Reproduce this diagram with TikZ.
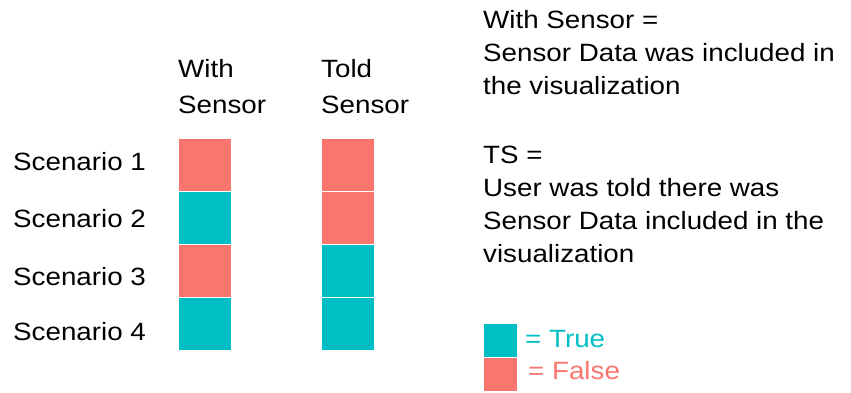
\documentclass[tikz,border=0pt]{standalone}
\usepackage{fontspec}
\setmainfont[FakeStretch=1.11]{Liberation Sans}
\definecolor{salmon}{HTML}{F8766D}
\definecolor{teal2}{HTML}{00BFC4}
\begin{document}
\begin{tikzpicture}[x=1pt,y=-1pt,
  txt/.style={anchor=base west,inner sep=0pt,font=\fontsize{25}{33}\selectfont},
  cell/.style={draw=white,line width=0.8pt},
  tcell/.style={cell,fill=teal2},
  fcell/.style={cell,fill=salmon}]
\useasboundingbox (0,0) rectangle (851,392);
% headers
\node[txt] (h1a) at (178,77) {With};
\node[txt] (h1b) at (178,113) {Sensor};
\node[txt] (h2a) at (321,77) {Told};
\node[txt] (h2b) at (321,113) {Sensor};
% scenario labels
\node[txt] (s1) at (13,170) {Scenario 1};
\node[txt] (s2) at (13,227) {Scenario 2};
\node[txt] (s3) at (13,285) {Scenario 3};
\node[txt] (s4) at (13,340) {Scenario 4};
% cells
\draw[fcell] (178,138) rectangle (231,191);
\draw[tcell] (178,191) rectangle (231,244);
\draw[fcell] (178,244) rectangle (231,297);
\draw[tcell] (178,297) rectangle (231,350);
\draw[fcell] (321,138) rectangle (374,191);
\draw[fcell] (321,191) rectangle (374,244);
\draw[tcell] (321,244) rectangle (374,297);
\draw[tcell] (321,297) rectangle (374,350);
% explanations
\node[txt] (e1) at (483,28) {With Sensor =};
\node[txt] (e2) at (483,61) {Sensor Data was included in};
\node[txt] (e3) at (483,94) {the visualization};
\node[txt] (t1) at (483,163) {TS =};
\node[txt] (t2) at (483,196) {User was told there was};
\node[txt] (t3) at (483,229) {Sensor Data included in the};
\node[txt] (t4) at (483,262) {visualization};
% legend
\draw[tcell] (483,323) rectangle (517,357);
\draw[fcell] (483,357) rectangle (517,391);
\node[txt,text=teal2] (lt) at (525,347) {= True};
\node[txt,text=salmon] (lf) at (528,379) {= False};
\end{tikzpicture}
\end{document}
